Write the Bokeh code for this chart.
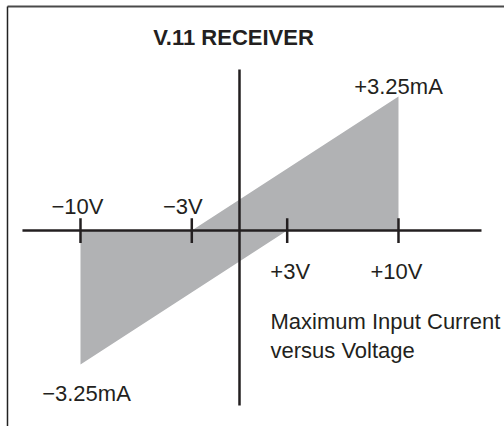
from bokeh.plotting import figure
from bokeh.models import ColumnDataSource
from bokeh.core.properties import value
from bokeh.embed import file_html
from bokeh.resources import INLINE

# ---- data ----
title_text = "V.11 RECEIVER"
tick_volts = [-10, -3, 3, 10]
tick_labels = ["\u221210V", "\u22123V", "+3V", "+10V"]
region_volts = [-10, -3, 10, 10, 3, -10]
region_ma = [0, 0, 3.25, 0, 0, -3.25]
max_current = 3.25
current_labels = ["+3.25mA", "\u22123.25mA"]
caption_lines = ["Maximum Input Current", "versus Voltage"]

# axis extents (V and mA)
h_axis_extent = (-13.65, 15.22)
v_axis_extent = (-4.25, 3.91)

X_RANGE = (-15.031, 16.667)
Y_RANGE = (-4.757, 5.583)

INK = "#231f20"
FONT = value("Liberation Sans")

p = figure(width=504, height=426, x_range=X_RANGE, y_range=Y_RANGE,
           output_backend="svg", toolbar_location=None,
           x_axis_location=None, y_axis_location=None,
           min_border=0, min_border_left=0, min_border_right=0,
           min_border_top=0, min_border_bottom=0)
p.title.visible = False
p.grid.visible = False
p.outline_line_color = None
p.background_fill_color = "white"
p.border_fill_color = "white"

# frame lines (top and left only)
frame_left, frame_top = -14.591, 5.437
p.segment(x0=[frame_left], y0=[frame_top], x1=[X_RANGE[1]], y1=[frame_top],
          line_color="#4a4a4a", line_width=2)
p.segment(x0=[frame_left], y0=[frame_top], x1=[frame_left], y1=[Y_RANGE[0]],
          line_color="#222222", line_width=1.5)

# shaded region
p.patch(region_volts, region_ma, fill_color="#b1b2b4", line_color=None)

# axes
p.segment(x0=[h_axis_extent[0]], y0=[0], x1=[h_axis_extent[1]], y1=[0],
          line_color=INK, line_width=2.5)
p.segment(x0=[0], y0=[v_axis_extent[0]], x1=[0], y1=[v_axis_extent[1]],
          line_color=INK, line_width=2.5)

# ticks
p.segment(x0=tick_volts, y0=[-0.3] * 4, x1=tick_volts, y1=[0.3] * 4,
          line_color=INK, line_width=2.5)

# tick labels (negative above the axis, positive below)
label_src = ColumnDataSource(dict(
    x=tick_volts,
    y=[0] * len(tick_volts),
    text=tick_labels,
    dx=[-3, -9, 3, -2],
    dy=[-24 if v < 0 else 41 for v in tick_volts],
))
p.text(x="x", y="y", text="text", x_offset="dx", y_offset="dy",
       source=label_src,
       text_align="center", text_baseline="alphabetic",
       text_font=FONT, text_font_size="22px", text_color=INK)

# current labels
p.text(x=[10], y=[max_current], text=[current_labels[0]],
       x_offset=0, y_offset=-10,
       text_align="center", text_baseline="alphabetic",
       text_font=FONT, text_font_size="22px", text_color=INK)
p.text(x=[-10], y=[-max_current], text=[current_labels[1]],
       x_offset=6, y_offset=29,
       text_align="center", text_baseline="alphabetic",
       text_font=FONT, text_font_size="22px", text_color=INK)

# caption
p.text(x=[1.95, 1.95], y=[-2.209, -2.913], text=caption_lines,
       text_align="left", text_baseline="alphabetic",
       text_font=FONT, text_font_size="22px", text_color=INK)

# title
p.text(x=[-0.377], y=[4.684], text=[title_text],
       text_align="center", text_baseline="alphabetic",
       text_font=FONT, text_font_style="bold", text_font_size="22px",
       text_color=INK)

open("out.html", "w").write(file_html(p, INLINE))
